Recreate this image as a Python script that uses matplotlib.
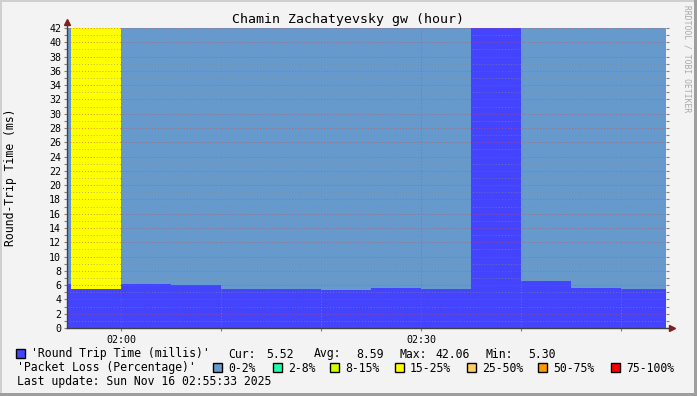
import matplotlib
matplotlib.use('Agg')
import matplotlib.pyplot as plt
from matplotlib.patches import Rectangle
from matplotlib.lines import Line2D

# minutes relative to 02:00, one sample every 5 minutes
t_start = [-10, -5, 0, 5, 10, 15, 20, 25, 30, 35, 40, 45, 50]
rtt = [6.1, 5.5, 6.16, 6.02, 5.46, 5.46, 5.30, 5.60, 5.46, 42.06, 6.58, 5.60, 5.52]
loss = ['0-2%', '15-25%', '0-2%', '0-2%', '0-2%', '0-2%', '0-2%', '0-2%',
        '0-2%', '0-2%', '0-2%', '0-2%', '0-2%']

loss_names = ['0-2%', '2-8%', '8-15%', '15-25%', '25-50%', '50-75%', '75-100%']
loss_colors = ['#6699CC', '#22FFAA', '#CCFF00', '#FFFF00', '#FFCC66', '#FF9900', '#FF0000']
color_of = dict(zip(loss_names, loss_colors))

xtick_pos = [0, 30]
xtick_lab = ['02:00', '02:30']
ymax = 42

W, H = 697, 396
fig = plt.figure(figsize=(W / 100, H / 100), dpi=100)
fig.patch.set_facecolor('#F3F3F3')
mono = 'DejaVu Sans Mono'


def fx(x):
    return x / W


def fy(y):
    return 1 - y / H


ax = fig.add_axes([fx(67), fy(328), fx(666) - fx(67), fy(28) - fy(328)])
ax.set_facecolor('white')
ax.set_xlim(-5.4, 54.5)
ax.set_ylim(0, ymax)

# rtt area and loss area above it
ax.bar(t_start, rtt, width=5, align='edge', color='#4444FF', linewidth=0, zorder=2)
ax.bar(t_start, [max(ymax - r, 0) for r in rtt], bottom=rtt, width=5, align='edge',
       color=[color_of[l] for l in loss], linewidth=0, zorder=1)

# grid drawn over the data
for v in range(1, ymax + 1):
    if v % 2 == 0:
        ax.axhline(v, color='#D04A4A', alpha=0.6, lw=0.7, ls=(0, (1, 2)), zorder=3)
    else:
        ax.axhline(v, color='#8C8C8C', alpha=0.6, lw=0.7, ls=(0, (1, 2)), zorder=3)
for v in [10, 20, 40, 50]:
    ax.axvline(v, color='#8C8C8C', alpha=0.6, lw=0.7, ls=(0, (1, 2)), zorder=3)
for v in xtick_pos:
    ax.axvline(v, color='#D04A4A', alpha=0.6, lw=0.7, ls=(0, (1, 2)), zorder=3)

for s in ax.spines.values():
    s.set_visible(False)

ax.set_yticks(range(0, ymax + 1, 2))
ax.set_yticks(range(0, ymax + 1), minor=True)
ax.set_xticks(xtick_pos)
ax.set_xticklabels(xtick_lab)
ax.set_xticks([10, 20, 40, 50], minor=True)
ax.tick_params(axis='both', which='both', direction='out', length=2.2, width=0.8,
               color='#808080', labelsize=7.2, pad=2)
ax.tick_params(axis='y', which='both', right=True)
ax.tick_params(axis='x', pad=3)
for lab in ax.get_xticklabels() + ax.get_yticklabels():
    lab.set_family(mono)

# axes with arrows
fig.add_artist(Line2D([fx(67), fx(67)], [fy(328), fy(24)], color='#404040', lw=1))
fig.add_artist(Line2D([fx(67), fx(671)], [fy(328), fy(328)], color='#404040', lw=1))
fig.add_artist(Line2D([fx(67)], [fy(22)], marker='^', ms=4, color='#7F1F1F', lw=0))
fig.add_artist(Line2D([fx(672)], [fy(328)], marker='>', ms=4, color='#7F1F1F', lw=0))

fig.text(fx(348), fy(19), 'Chamin Zachatyevsky gw (hour)', family=mono, fontsize=9.5,
         ha='center', va='center')
fig.text(fx(11), fy(177), 'Round-Trip Time (ms)', family=mono, fontsize=8.3,
         rotation=90, ha='center', va='center')
fig.text(fx(687), fy(5), 'RRDTOOL / TOBI OETIKER', family=mono, fontsize=5.8,
         rotation=-90, ha='center', va='top', color='#A8A8A8')


def box(x, y, c):
    fig.add_artist(Rectangle((fx(x), fy(y + 9)), 9 / W, 9 / H, facecolor=c,
                             edgecolor='black', lw=1))


def txt(x, y, s):
    fig.text(fx(x), fy(y), s, family=mono, fontsize=8.3, ha='left', va='center')


# legend row 1
box(16, 349, '#4444FF')
txt(31, 354, "'Round Trip Time (millis)'")
txt(228, 354, 'Cur:')
txt(266, 354, '5.52')
txt(314, 354, 'Avg:')
txt(356, 354, '8.59')
txt(400, 354, 'Max:')
txt(435, 354, '42.06')
txt(486, 354, 'Min:')
txt(528, 354, '5.30')

# legend row 2
txt(17, 368, "'Packet Loss (Percentage)'")
box_x = [213, 273, 330, 395, 467, 538, 611]
for bx, name, c in zip(box_x, loss_names, loss_colors):
    box(bx, 363, c)
    txt(bx + 15, 368, name)

txt(17, 382, 'Last update: Sun Nov 16 02:55:33 2025')

# frame shading
fig.add_artist(Rectangle((0, fy(2)), 1, 2 / H, facecolor='#CFCFCF', lw=0))
fig.add_artist(Rectangle((0, 0), 2 / W, 1, facecolor='#CFCFCF', lw=0))
fig.add_artist(Rectangle((0, 0), 1, 3 / H, facecolor='#9E9E9E', lw=0))
fig.add_artist(Rectangle((fx(694), 0), 3 / W, 1, facecolor='#9E9E9E', lw=0))

fig.savefig('out.png', dpi=100, facecolor=fig.get_facecolor())
